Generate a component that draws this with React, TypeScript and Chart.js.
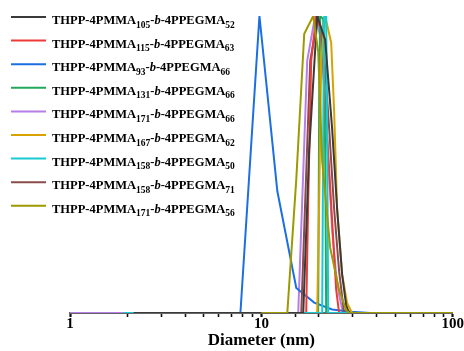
import React, { useEffect, useRef } from 'react';
import { Chart, registerables } from 'chart.js';

Chart.register(...registerables);

const SERIF = "'Liberation Serif', 'Times New Roman', serif";

// Legend label parts (degrees of polymerisation)
const pmmaDP = ['105', '115', '93', '131', '171', '167', '158', '158', '171'];
const ppegmaDP = ['52', '63', '66', '66', '66', '62', '50', '71', '56'];

const seriesColors = ['#3a3a3a', '#ee3a36', '#1c6fe3', '#22a85a', '#b67fe8', '#d8a300', '#18c9cf', '#8a4b4b', '#9c9a00'];

// Drawing order (lower = on top)
const seriesOrder = [1, 5, 7, 4, 8, 3, 2, 6, 0];

// Diameter (nm) and normalised intensity for each series
const blackD = [2.15, 16.55, 17.78, 19.57, 21.54, 23.43, 24.88, 26.42, 27.72, 28.73];
const blackI = [0, 0, 55, 100, 92, 62, 35, 13, 2.7, 0];

const redD = [17.15, 17.57, 18.21, 19.34, 20.54, 21.81, 23.43, 24.58, 25.48];
const redI = [0, 38, 85, 100, 95, 65, 31, 8, 0];

const blueD = [7.77, 9.77, 12.12, 15.22, 18.88, 23.43, 29.43, 36.96];
const blueI = [0, 100, 41, 8.4, 3.5, 1.2, 0.4, 0];

const greenD = [19.81, 20.05, 20.29, 21.04, 21.54, 21.81];
const greenI = [0, 72, 100, 99, 55, 0];

const purpleD = [1, 15.58, 16.35, 17.36, 19.1, 20.54, 22.07, 23.43, 24.58, 25.48, 26.74];
const purpleI = [0, 0, 38, 85, 100, 92, 58, 28, 13, 6, 0];

const goldD = [19.57, 20.05, 20.54, 21.54, 23.16, 24.0, 24.88, 26.42, 28.05, 29.78];
const goldI = [0, 38, 85, 100, 91, 68, 35, 13, 3.4, 0];

const cyanD = [1.9, 20.79, 21.04, 21.29, 21.81, 22.07, 22.34, 30];
const cyanI = [0, 0, 60, 100, 100, 60, 0, 0];

const brownD = [16.16, 16.95, 18.0, 19.81, 21.04, 22.61, 24.0, 25.48, 27.06];
const brownI = [0, 38, 85, 100, 92, 62, 35, 14, 0];

const oliveD = [10, 13.66, 15.22, 16.75, 18.66, 19.81, 20.79, 22.88, 25.48, 27.72, 28.73, 100];
const oliveI = [0, 0, 45, 94, 100, 88, 51, 22, 7.7, 1, 0, 0];

const diameters = [blackD, redD, blueD, greenD, purpleD, goldD, cyanD, brownD, oliveD];
const intensities = [blackI, redI, blueI, greenI, purpleI, goldI, cyanI, brownI, oliveI];

const xMin = 1;
const xMax = 100;
const xTickLabels = [1, 10, 100];

export default function App() {
  const ref = useRef<HTMLCanvasElement>(null);

  useEffect(() => {
    if (!ref.current) return;

    const legendPlugin = {
      id: 'customLegend',
      afterDraw(chart: any) {
        const ctx = chart.ctx;
        ctx.save();
        chart.data.datasets.forEach((ds: any, i: number) => {
          const y = 17 + i * 23.6;
          ctx.strokeStyle = ds.borderColor;
          ctx.lineWidth = 2;
          ctx.beginPath();
          ctx.moveTo(11, y);
          ctx.lineTo(46, y);
          ctx.stroke();
          let x = 52;
          const base = y + 7;
          const main = 'bold 12.5px ' + SERIF;
          const sub = 'bold 9.5px ' + SERIF;
          const parts = [
            { t: 'THPP-4PMMA', f: main, dy: 0 },
            { t: pmmaDP[i], f: sub, dy: 3.5 },
            { t: '-', f: main, dy: 0 },
            { t: 'b', f: 'italic bold 12.5px ' + SERIF, dy: 0 },
            { t: '-4PPEGMA', f: main, dy: 0 },
            { t: ppegmaDP[i], f: sub, dy: 3.5 },
          ];
          ctx.fillStyle = '#000';
          ctx.textBaseline = 'alphabetic';
          ctx.textAlign = 'left';
          parts.forEach((p) => {
            ctx.font = p.f;
            ctx.fillText(p.t, x, base + p.dy);
            x += ctx.measureText(p.t).width;
          });
        });
        ctx.restore();
      },
    };

    const isMajor = (v: number) => xTickLabels.some((t) => Math.abs(t - v) < 1e-9);

    const chart = new Chart(ref.current, {
      type: 'line',
      data: {
        datasets: diameters.map((d, i) => ({
          label: 'THPP-4PMMA' + pmmaDP[i] + '-b-4PPEGMA' + ppegmaDP[i],
          data: d.map((x, j) => ({ x, y: intensities[i][j] })),
          borderColor: seriesColors[i],
          backgroundColor: seriesColors[i],
          borderWidth: 2,
          pointRadius: 0,
          tension: 0,
          fill: false,
          order: seriesOrder[i],
        })),
      },
      options: {
        animation: false,
        responsive: false,
        maintainAspectRatio: false,
        layout: { padding: { left: 70, right: 10, top: 16, bottom: 2 } },
        plugins: {
          legend: { display: false },
          tooltip: { enabled: false },
        },
        scales: {
          x: {
            type: 'logarithmic',
            min: xMin,
            max: xMax,
            border: { display: true, color: '#666', width: 2 },
            grid: {
              drawOnChartArea: false,
              drawTicks: true,
              tickLength: 4,
              tickColor: '#111',
              tickWidth: (c: any) => (c.tick && isMajor(c.tick.value) ? 2.2 : 1.6),
            },
            ticks: {
              autoSkip: false,
              maxRotation: 0,
              padding: 0,
              color: '#000',
              font: { family: SERIF, size: 15, weight: 'bold', lineHeight: 1 },
              callback: (v: any) => (isMajor(Number(v)) ? String(v) : ''),
            },
            title: {
              display: true,
              text: 'Diameter (nm)',
              color: '#000',
              font: { family: SERIF, size: 17, weight: 'bold', lineHeight: 1 },
              padding: { top: 0, bottom: 0 },
            },
          },
          y: {
            display: false,
            min: 0,
            max: 100,
          },
        },
      },
      plugins: [legendPlugin],
    } as any);

    return () => chart.destroy();
  }, []);

  return (
    <div style={{ position: 'absolute', left: 0, top: 0, width: 464, height: 351, background: '#fff' }}>
      <canvas ref={ref} width={464} height={351} style={{ display: 'block' }} />
    </div>
  );
}
